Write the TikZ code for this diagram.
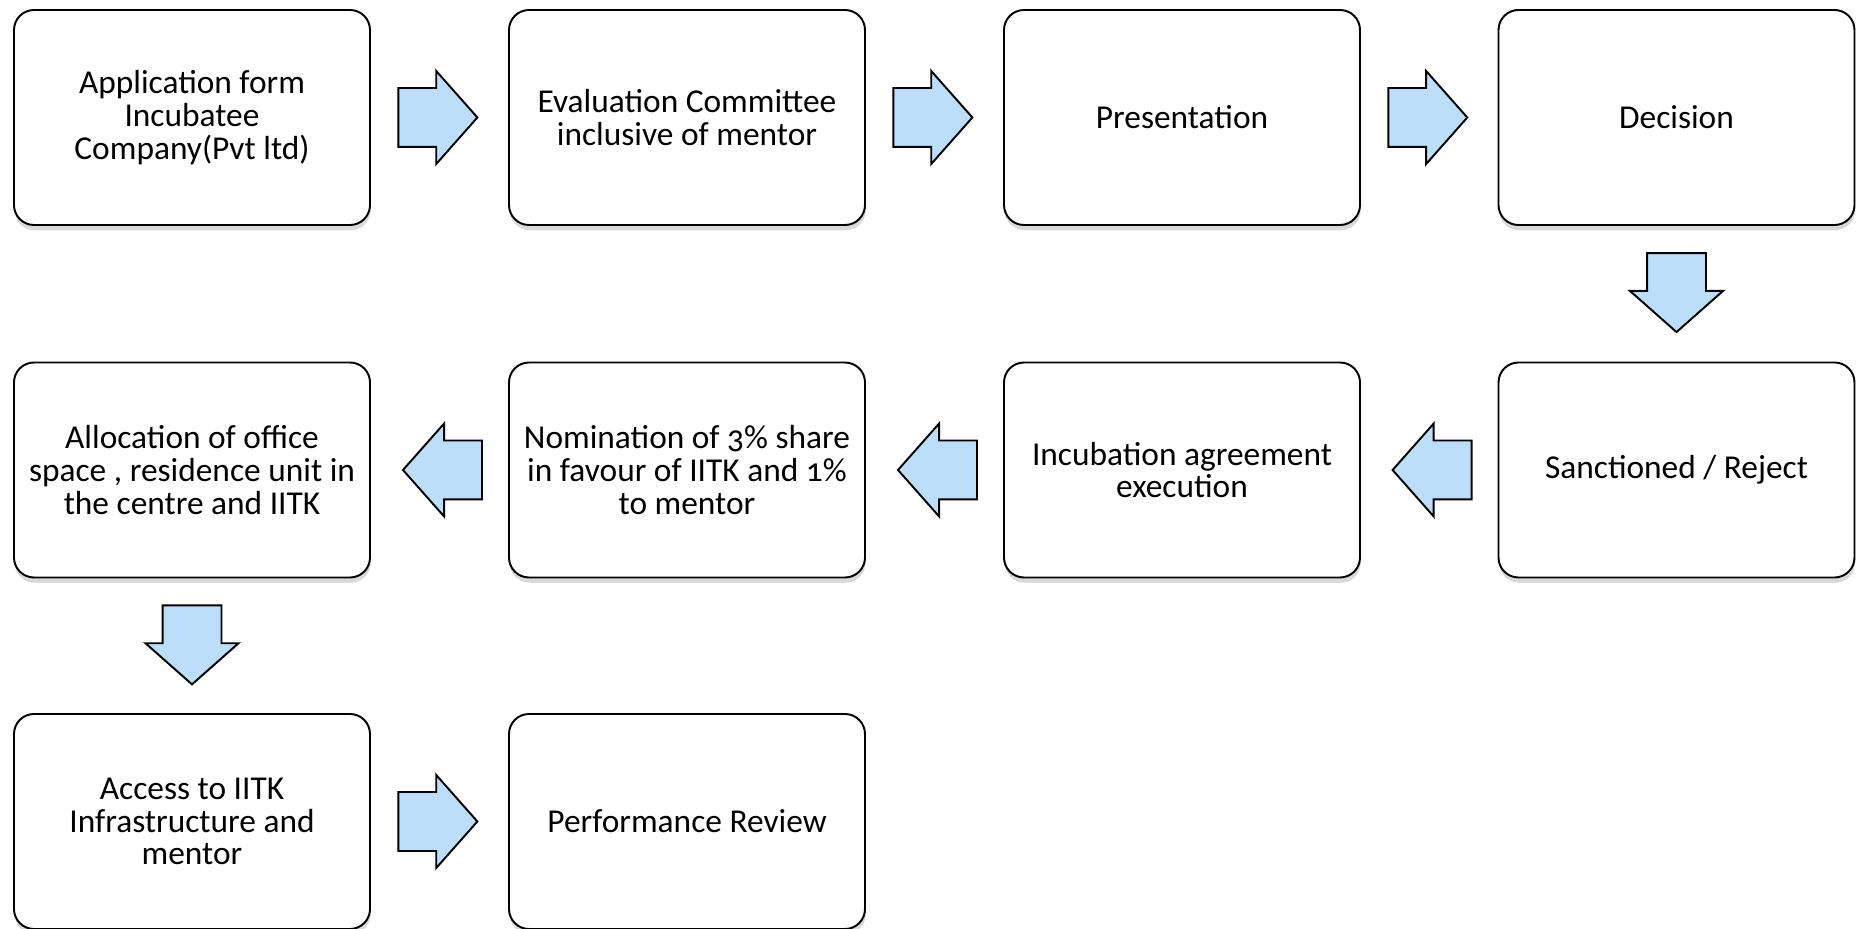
\documentclass[tikz,border=0pt]{standalone}
\usepackage{fontspec}
\setmainfont{Carlito}[Numbers=OldStyle]
\usetikzlibrary{shapes.arrows,shadows,calc}
\definecolor{arrowblue}{RGB}{189,222,251}
\tikzset{
  stage/.style={draw, line width=0.55pt, rounded corners=0.2cm, fill=white,
    minimum width=3.56cm, minimum height=2.15cm, align=center,
    font=\fontsize{9.5}{9.3}\selectfont,
    drop shadow={shadow xshift=0.2pt, shadow yshift=-1.5pt, opacity=0.3}},
  blockarrow/.style={single arrow, draw, line width=0.55pt, fill=arrowblue,
    minimum height=0.79cm, inner xsep=0pt, inner ysep=0.285cm, anchor=tail,
    single arrow head extend=0.17cm, single arrow tip angle=97, outer sep=0pt},
  downarrow/.style={blockarrow, shape border rotate=270, inner xsep=0.285cm, inner ysep=0pt},
  leftarrow/.style={blockarrow, shape border rotate=180}
}
\begin{document}
\begin{tikzpicture}
\useasboundingbox (0,0) rectangle (18.58,9.29);
%\draw[very thin,color=gray,step=0.5] (0,0) grid (18.58,9.29);
\node[stage] (apply)   at (1.92,8.115)   {Application form\\Incubatee\\Company(Pvt ltd)};
\node[stage] (evalcom) at (6.87,8.115)   {Evaluation Committee\\inclusive of mentor};
\node[stage] (present) at (11.82,8.115)  {Presentation};
\node[stage] (decide)  at (16.765,8.115) {Decision};
\node[stage] (sanct)   at (16.765,4.59)  {Sanctioned / Reject};
\node[stage] (agree)   at (11.82,4.59)   {Incubation agreement\\execution};
\node[stage] (nomin)   at (6.87,4.59)    {Nomination of 3\% share\\in favour of IITK and 1\%\\to mentor};
\node[stage] (alloc)   at (1.92,4.59)    {Allocation of office\\space , residence unit in\\the centre and IITK};
\node[stage] (access)  at (1.92,1.075)   {Access to IITK\\Infrastructure and\\mentor};
\node[stage] (review)  at (6.87,1.075)   {Performance Review};
% block arrows between the stages
\node[blockarrow] (apply-eval)     at ($(apply.east)!0.2!(evalcom.west)$) {};
\node[blockarrow] (eval-present)   at ($(evalcom.east)!0.2!(present.west)$) {};
\node[blockarrow] (present-decide) at ($(present.east)!0.2!(decide.west)$) {};
\node[downarrow]  (decide-sanct)   at ($(decide.south)!0.2!(sanct.north)$) {};
\node[leftarrow]  (sanct-agree)    at ($(sanct.west)!0.19!(agree.east)$) {};
\node[leftarrow]  (agree-nomin)    at ($(agree.west)!0.19!(nomin.east)$) {};
\node[leftarrow]  (nomin-alloc)    at ($(nomin.west)!0.19!(alloc.east)$) {};
\node[downarrow]  (alloc-access)   at ($(alloc.south)!0.2!(access.north)$) {};
\node[blockarrow] (access-review)  at ($(access.east)!0.2!(review.west)$) {};
\end{tikzpicture}
\end{document}
